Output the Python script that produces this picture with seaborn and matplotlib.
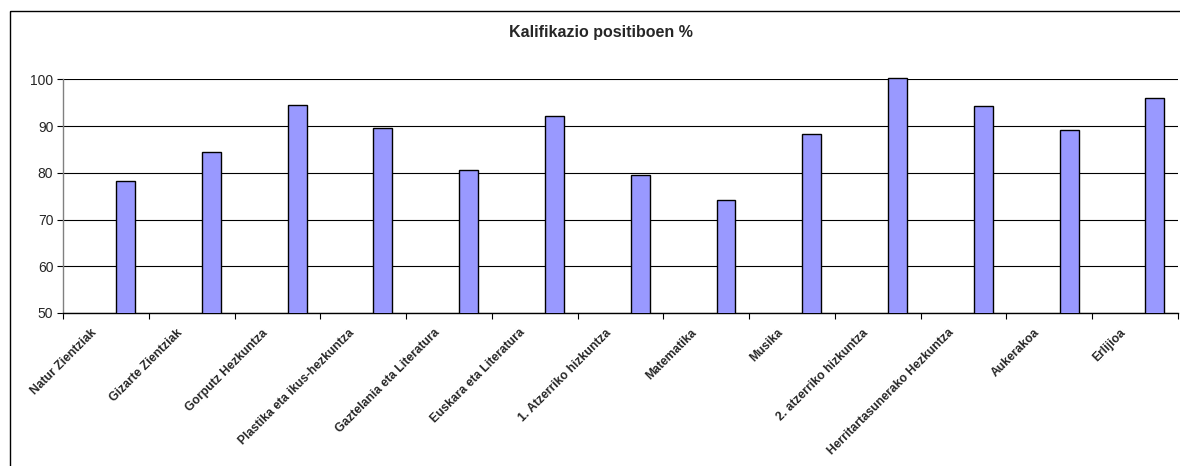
import matplotlib
matplotlib.use("Agg")
import matplotlib.pyplot as plt
from matplotlib.patches import Rectangle
import seaborn as sns
import pandas as pd
import numpy as np

categories = [
    "Natur Zientziak", "Gizarte Zientziak", "Gorputz Hezkuntza",
    "Plastika eta ikus-hezkuntza", "Gaztelania eta Literatura",
    "Euskara eta Literatura", "1. Atzerriko hizkuntza", "Matematika",
    "Musika", "2. atzerriko hizkuntza", "Herritartasunerako Hezkuntza",
    "Aukerakoa", "Erlijioa",
]
values = [78.3, 84.4, 94.5, 89.5, 80.6, 92.2, 79.5, 74.1, 88.2, 100.3, 94.3, 89.1, 95.9]
empty_series = [np.nan] * len(categories)
series_names = ["_empty", "Kalifikazio positiboen %"]
y_ticks = [50, 60, 70, 80, 90, 100]

sns.set_theme(style="white")
plt.rcParams["font.family"] = ["Liberation Sans", "DejaVu Sans"]

df = pd.DataFrame({
    "category": categories * 2,
    "value": empty_series + values,
    "serie": [series_names[0]] * len(categories) + [series_names[1]] * len(categories),
})

W, H = 1180, 466
fig = plt.figure(figsize=(W / 100, H / 100), dpi=100)
fig.patch.set_facecolor("white")

# chart area border
fig.patches.append(Rectangle((10 / W, 1 - 11 / H), 1.2, -1.2, transform=fig.transFigure,
                             fill=False, edgecolor="#000000", linewidth=1.0))

x0, x1, ytop, ybot = 63, 1178, 79.3, 313
ax = fig.add_axes([x0 / W, 1 - ybot / H, (x1 - x0) / W, (ybot - ytop) / H])

sns.barplot(data=df, x="category", y="value", hue="serie", hue_order=series_names,
            order=categories, palette=["#9999FF", "#9999FF"], saturation=1,
            width=0.92, gap=0.52, dodge=True, edgecolor="black", linewidth=1.0,
            errorbar=None, legend=False, ax=ax, zorder=3)
clip_rect = Rectangle((0, 0), 1, 1.1, transform=ax.transAxes)
for p in ax.patches:
    p.set_clip_path(clip_rect)

ax.set_ylim(50, 100)
ax.set_xlim(-0.5, len(categories) - 0.5)
ax.set_yticks(y_ticks)
ax.set_yticklabels([str(t) for t in y_ticks], fontsize=10)
ax.yaxis.grid(True, color="black", linewidth=0.8)
ax.set_axisbelow(True)
ax.set_xlabel("")
ax.set_ylabel("")

# category boundary ticks (major) and rotated labels (minor, slightly left of centre)
ax.set_xticks(np.arange(len(categories) + 1) - 0.5)
ax.set_xticklabels([])
ax.set_xticks(np.arange(len(categories)) - 0.13, minor=True)
ax.set_xticklabels(categories, minor=True, rotation=45, ha="right",
                   va="center", rotation_mode="anchor", fontsize=8.7, fontweight="bold")
ax.tick_params(axis="x", which="major", direction="out", length=4, width=0.8, color="black", bottom=True)
ax.tick_params(axis="x", which="minor", length=0, pad=13)
ax.tick_params(axis="y", direction="out", length=4, width=0.8, color="black", left=True, pad=3)

for s in ["top", "right"]:
    ax.spines[s].set_visible(False)
ax.spines["left"].set_color("#808080")
ax.spines["left"].set_linewidth(1.0)
ax.spines["bottom"].set_color("black")
ax.spines["bottom"].set_linewidth(1.0)

fig.text(600.5 / W, 1 - 32 / H, "Kalifikazio positiboen %", ha="center", va="center",
         fontsize=11.5, fontweight="bold")

fig.savefig("out.png", dpi=100, facecolor="white")
